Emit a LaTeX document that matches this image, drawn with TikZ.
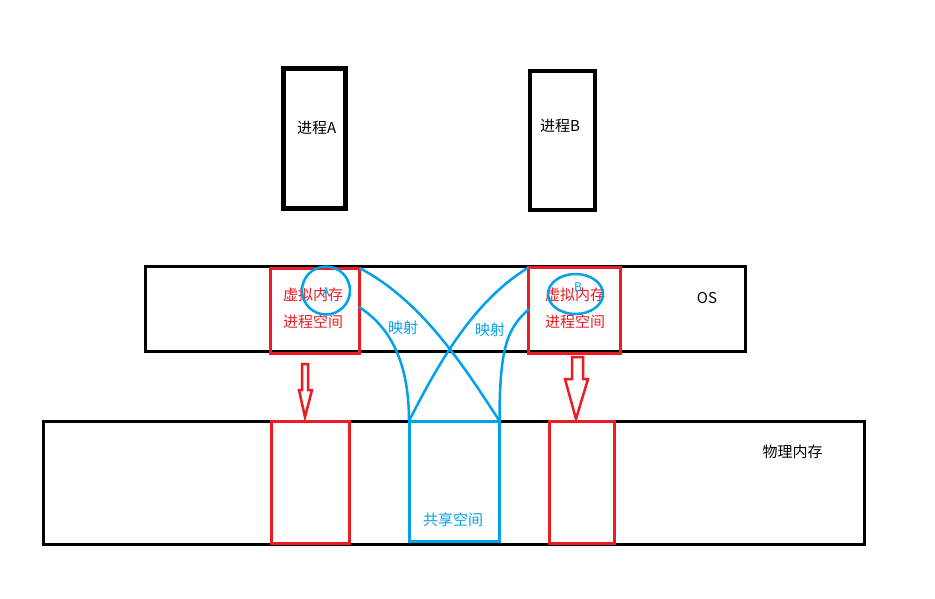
\documentclass[tikz,border=0pt]{standalone}
\usepackage{fontspec}
\setmainfont{Noto Sans CJK SC}
\usetikzlibrary{shapes.geometric}
\definecolor{pred}{HTML}{ED1C24}
\definecolor{pblue}{HTML}{00A2E8}
\begin{document}
\begin{tikzpicture}[x=1pt,y=-1pt,
  box/.style={draw, inner sep=0pt, outer sep=0pt},
  procbox/.style={box, draw=black, line width=4.5pt},
  blackbox/.style={box, draw=black, line width=3pt},
  redbox/.style={box, draw=pred, line width=3pt},
  bluebox/.style={box, draw=pblue, line width=3pt},
  link/.style={draw=pblue, line width=2.5pt},
  ring/.style={draw=pblue, line width=2.5pt, inner sep=0pt, outer sep=0pt},
  redarrow/.style={draw=pred, line width=2.5pt, line join=miter},
  lbl/.style={font=\fontsize{15}{17}\selectfont, inner sep=0pt},
  lblsmall/.style={font=\fontsize{12}{14}\selectfont, inner sep=0pt}
]
\useasboundingbox (0,0) rectangle (935,598);
\fill[white] (0,0) rectangle (935,598);

% process boxes
\node[procbox, minimum width=62pt, minimum height=140pt] (pa) at (314.5,138.5) {};
\node[procbox, minimum width=65pt, minimum height=139pt] (pb) at (562.3,140.4) {};
\node[lbl] (tpa) at (316.7,128.3) {进程A};
\node[lbl] (tpb) at (560,126) {进程B};

% OS box
\node[blackbox, minimum width=600pt, minimum height=85pt] (os) at (445,309.2) {};
\node[lbl] (tos) at (707,298) {OS};

% physical memory
\node[blackbox, minimum width=821.3pt, minimum height=123.3pt] (ram) at (453.7,482.7) {};
\node[lbl] (tram) at (792.7,451.7) {物理内存};

% virtual memory boxes
\node[redbox, minimum width=89pt, minimum height=85pt] (rva) at (315,310.5) {};
\node[redbox, minimum width=92pt, minimum height=85.5pt] (rvb) at (574.5,310.25) {};

% physical red boxes
\node[redbox, minimum width=78pt, minimum height=122pt] (rpa) at (310,482) {};
\node[redbox, minimum width=65pt, minimum height=122pt] (rpb) at (582,482) {};

% shared box
\node[bluebox, minimum width=90.5pt, minimum height=120pt] (sh) at (454.25,481) {};
\node[lbl, text=pblue] (tsh) at (453,520) {共享空间};

% texts in virtual boxes
\node[lbl, text=pred] (va1) at (313,295) {虚拟内存};
\node[lbl, text=pred] (va2) at (313,322) {进程空间};
\node[lbl, text=pred] (vb1) at (575,295) {虚拟内存};
\node[lbl, text=pred] (vb2) at (575,322) {进程空间};

% circles
\node[ring, circle, minimum size=48pt] (ca) at (326,290.5) {};
\node[ring, ellipse, minimum width=55pt, minimum height=40pt] (cb) at (575.5,294) {};
\node[lblsmall, text=pblue] (la) at (326,292) {A};
\node[lblsmall, text=pblue] (lb) at (578,287) {B};

% mapping links
\coordinate (a2) at (359,307);
\coordinate (b2) at (529,309);
\draw[link] (rva.north east) .. controls (420,300) and (460,360) .. (sh.north east);
\draw[link] (a2) .. controls (395,330) and (409,370) .. (sh.north west);
\draw[link] (rvb.north west) .. controls (475,300) and (440,360) .. (sh.north west);
\draw[link] (b2) .. controls (508,328) and (499.5,345) .. (sh.north east);
\node[lbl, text=pblue] (m1) at (403,328) {映射};
\node[lbl, text=pblue] (m2) at (490,330) {映射};

% hollow red arrows
\draw[redarrow] (302,364) -- (308,364) -- (308,390) -- (312,390) -- (305,417) -- (299,390) -- (302,390) -- cycle;
\draw[redarrow] (572,357) -- (583,357) -- (583,379) -- (588,379) -- (576,419) -- (565,379) -- (572,379) -- cycle;
\end{tikzpicture}
\end{document}
